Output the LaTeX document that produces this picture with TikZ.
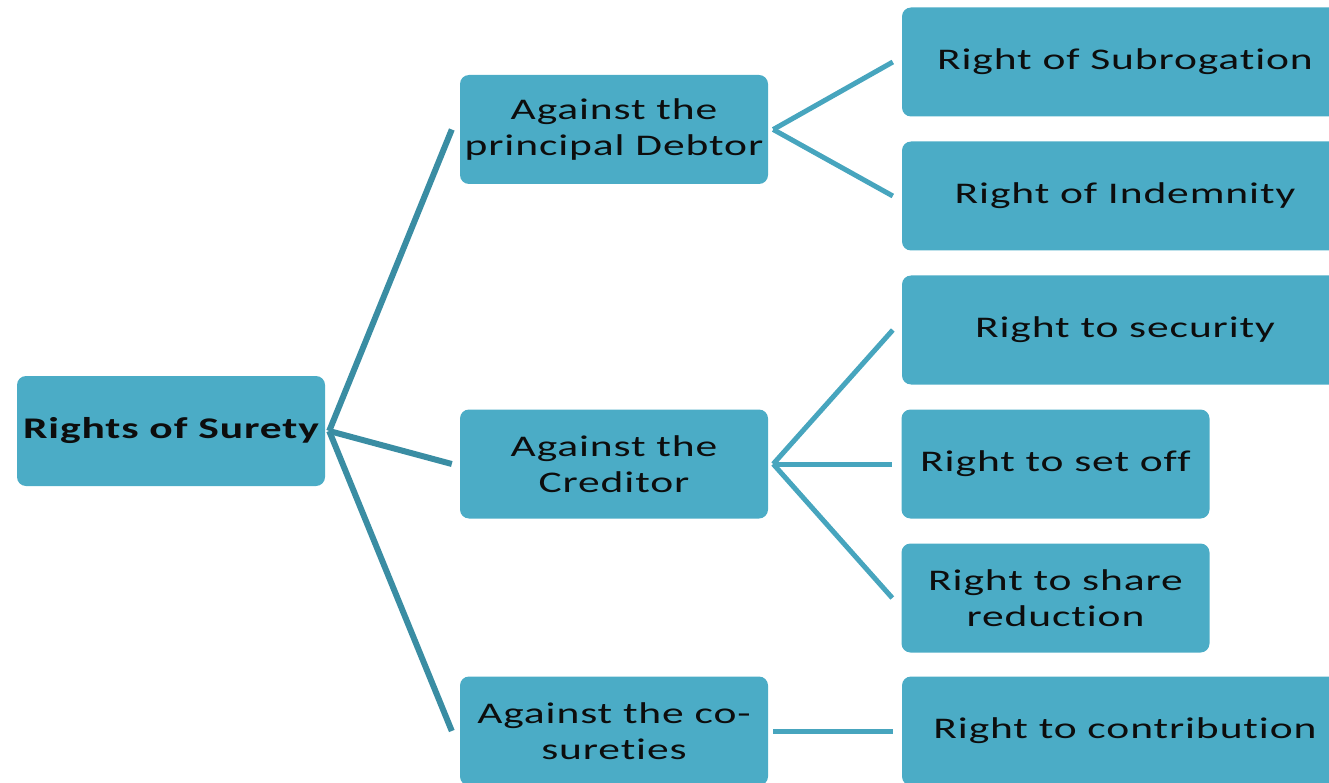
\documentclass[tikz,border=0pt]{standalone}
\usepackage{fontspec}
\setmainfont{Carlito}[FakeStretch=1.45,LetterSpace=3,Ligatures={NoCommon}]
\definecolor{boxfill}{HTML}{4BACC6}
\definecolor{trunk}{HTML}{3A8DA3}
\definecolor{twig}{HTML}{47A5BE}
\definecolor{ink}{HTML}{0D0D0D}
\begin{document}
\begin{tikzpicture}[x=1pt,y=-1pt,
  box/.style={draw=none, fill=boxfill, rounded corners=9pt, inner sep=0pt,
    text=ink, align=center, font=\fontsize{30}{36}\selectfont},
  narrow/.style={box, minimum width=308pt, minimum height=109pt},
  wide/.style={box, minimum width=446pt, minimum height=109pt},
  trunkline/.style={draw=trunk, line width=6pt},
  twigline/.style={draw=twig, line width=5pt}]
\useasboundingbox (0,0) rectangle (1329,783);
\clip (0,0) rectangle (1329,783);

% root
\node[narrow, minimum height=110pt, font=\fontsize{30}{36}\selectfont\bfseries] (root) at (171,431) {Rights of Surety};

% second level
\node[narrow] (debtor)   at (614,129.5) {Against the\\principal Debtor};
\node[narrow] (creditor) at (614,464)   {Against the\\Creditor};
\node[narrow] (cosure)   at (614,731)   {Against the co-\\sureties};

% third level
\node[wide]   (subro)   at (1125,62)  {Right of Subrogation};
\node[wide]   (indem)   at (1125,196) {Right of Indemnity};
\node[wide]   (secur)   at (1125,330) {Right to security};
\node[narrow] (setoff)  at (1055.5,464) {Right to set off};
\node[narrow] (share)   at (1055.5,598) {Right to share\\reduction};
\node[wide]   (contrib) at (1125,731) {Right to contribution};

% connectors from the root
\coordinate (hub) at ([xshift=4pt]root.east);
\draw[trunkline] (hub) -- ([xshift=-8pt]debtor.west);
\draw[trunkline] (hub) -- ([xshift=-8pt]creditor.west);
\draw[trunkline] (hub) -- ([xshift=-8pt]cosure.west);

% connectors to the rights
\coordinate (hubA) at ([xshift=5pt]debtor.east);
\coordinate (hubB) at ([xshift=5pt]creditor.east);
\draw[twigline] (hubA) -- ([xshift=-9pt]subro.west);
\draw[twigline] (hubA) -- ([xshift=-9pt]indem.west);
\draw[twigline] (hubB) -- ([xshift=-9pt]secur.west);
\draw[twigline] (hubB) -- ([xshift=-9pt]setoff.west);
\draw[twigline] (hubB) -- ([xshift=-9pt]share.west);
\draw[twigline] ([xshift=5pt]cosure.east) -- ([xshift=-9pt]contrib.west);
\end{tikzpicture}
\end{document}
